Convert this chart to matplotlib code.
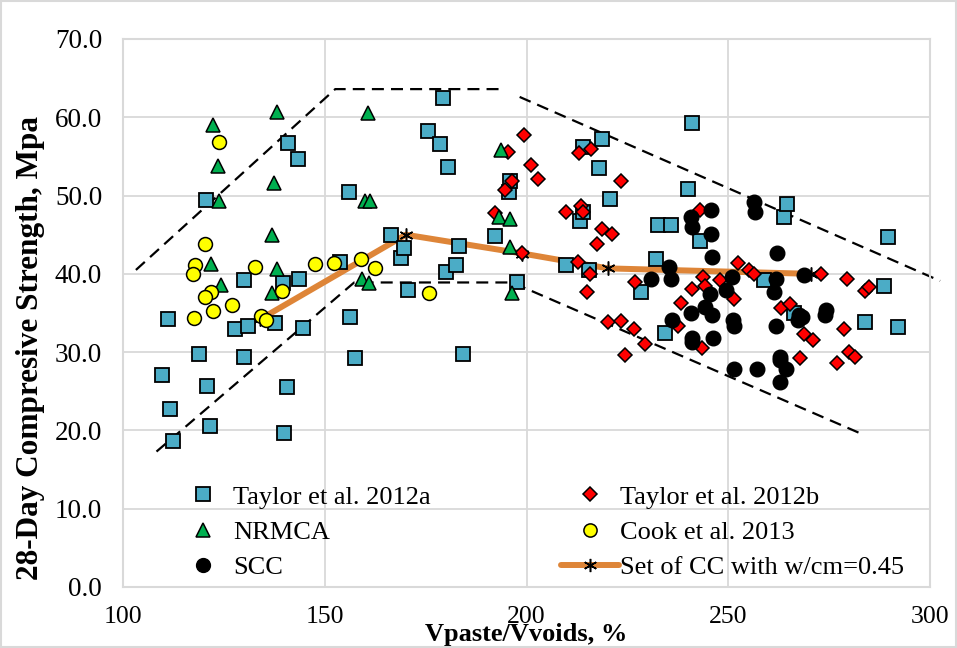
import matplotlib
matplotlib.use("Agg")
import matplotlib.pyplot as plt
from matplotlib.patches import Rectangle

plt.rcParams['font.family'] = ['Liberation Serif', 'DejaVu Serif']

# ---------------- data ----------------
taylor_a_x = [109.7, 111.2, 111.7, 112.4, 118.9, 120.8, 121.6, 120.5, 127.8, 129.9, 130.1, 131.1,
              137.7, 139.6, 139.8, 140.6, 141.0, 143.3, 143.7, 144.7, 153.8, 155.9, 156.3, 157.4,
              166.5, 169.0, 169.6, 170.6, 175.5, 178.5, 179.2, 180.1, 180.6, 182.6, 183.2, 184.3,
              192.3, 195.6, 196.0, 197.7, 209.9, 213.2, 214.0, 214.0, 215.5, 217.9, 218.6, 220.7,
              228.5, 232.0, 232.6, 234.3, 235.9, 240.1, 240.9, 243.0, 258.9, 263.7, 264.5, 266.3,
              284.0, 288.7, 289.7, 292.1]
taylor_a_y = [27.1, 34.2, 22.7, 18.6, 29.8, 25.7, 20.6, 49.4, 33.0, 29.4, 39.2, 33.3,
              33.7, 38.8, 19.7, 25.6, 56.7, 54.7, 39.4, 33.1, 41.5, 50.4, 34.5, 29.2,
              45.0, 42.0, 43.3, 37.9, 58.2, 56.6, 62.4, 40.3, 53.6, 41.1, 43.5, 29.8,
              44.8, 50.5, 51.9, 39.0, 41.1, 46.7, 47.9, 56.2, 40.5, 53.5, 57.2, 49.6,
              37.7, 41.9, 46.3, 32.4, 46.3, 50.8, 59.3, 44.2, 39.2, 47.3, 48.9, 35.0,
              33.9, 38.4, 44.7, 33.2]

taylor_b_x = [199.5, 201.2, 202.9, 195.5, 196.3, 194.6, 192.3, 198.9, 213.0, 216.1, 223.3, 209.9,
              213.4, 214.0, 218.8, 221.3, 217.4, 243.0, 212.7, 215.7, 214.9, 227.0, 220.3, 223.5,
              226.6, 229.4, 224.4, 238.2, 240.9, 243.8, 244.2, 248.0, 251.4, 252.3, 255.2, 256.4,
              237.5, 243.4, 273.1, 279.4, 283.9, 284.9, 263.0, 265.3, 268.8, 271.1, 278.7, 267.7,
              276.9, 280.0, 281.5]
taylor_b_y = [57.8, 53.9, 52.1, 55.6, 51.8, 50.7, 47.8, 42.7, 55.5, 55.9, 51.9, 47.9,
              48.7, 47.9, 45.7, 45.1, 43.8, 48.1, 41.5, 40.0, 37.7, 39.0, 33.8, 34.0,
              33.0, 31.0, 29.6, 36.3, 38.1, 39.6, 38.4, 39.2, 36.8, 41.4, 40.5, 40.0,
              33.3, 30.5, 40.0, 39.4, 37.8, 38.3, 35.7, 36.1, 32.3, 31.6, 33.0, 29.2,
              28.6, 30.0, 29.4]

nrmca_x = [122.4, 138.1, 123.6, 137.5, 123.8, 136.9, 121.8, 138.1, 124.3, 136.9, 160.7, 160.0,
           161.3, 193.8, 193.3, 195.9, 196.0, 159.2, 160.9, 196.3]
nrmca_y = [59.0, 60.7, 53.8, 51.6, 49.3, 45.0, 41.3, 40.6, 38.6, 37.5, 60.5, 49.3,
           49.3, 55.8, 47.2, 47.0, 43.4, 39.3, 38.8, 37.6]

cook_x = [123.8, 120.3, 117.9, 117.3, 132.6, 147.6, 121.8, 120.3, 139.5, 127.0, 122.2, 117.7,
          134.2, 135.4, 152.2, 159.1, 162.5, 175.8]
cook_y = [56.9, 43.8, 41.1, 40.0, 40.9, 41.3, 37.7, 37.1, 37.8, 36.0, 35.2, 34.3,
          34.6, 34.1, 41.4, 41.9, 40.8, 37.5]

scc_x = [245.8, 256.4, 256.6, 240.7, 241.1, 245.8, 246.0, 235.3, 230.8, 235.7, 245.6, 249.5,
         251.0, 240.7, 244.2, 246.0, 236.1, 251.3, 251.4, 240.9, 241.1, 246.1, 251.4, 257.2,
         262.2, 261.8, 268.7, 261.4, 267.6, 268.4, 267.2, 274.2, 274.0, 261.8, 262.9, 262.9,
         264.3, 262.9]
scc_y = [48.1, 49.2, 47.9, 47.3, 46.0, 45.1, 42.2, 40.9, 39.3, 39.3, 37.4, 37.9,
         39.6, 35.0, 35.8, 34.7, 34.1, 34.1, 33.3, 31.8, 31.3, 31.8, 27.9, 27.9,
         42.7, 39.4, 39.8, 37.7, 34.7, 34.5, 34.1, 35.4, 34.7, 33.3, 29.4, 29.0,
         27.9, 26.2]

cc_x = [134.0, 170.1, 199.0, 220.2, 270.5]
cc_y = [34.2, 45.0, 42.6, 40.7, 40.0]

upper_env_x = [103.2, 152.6, 194.4]
upper_env_y = [40.5, 63.6, 63.6]
upper_env2_x = [198.3, 302.5]
upper_env2_y = [62.6, 39.1]
lower_env_x = [108.3, 157.3, 196.4, 283.3]
lower_env_y = [17.3, 38.9, 38.9, 19.5]

x_ticks = [100, 150, 200, 250, 300]
y_ticks = [0, 10, 20, 30, 40, 50, 60, 70]

labels = ["Taylor et al. 2012a", "Taylor et al. 2012b", "NRMCA", "Cook et al. 2013",
          "SCC", "Set of CC with w/cm=0.45"]

# ---------------- figure ----------------
W, H = 957, 648
fig = plt.figure(figsize=(W / 100, H / 100), dpi=100)
ax = fig.add_axes([123 / W, 1 - 587 / H, (930 - 123) / W, (587 - 39) / H])

grid_c = '#D9D9D9'
ax.set_xlim(100, 300)
ax.set_ylim(0, 70)
ax.set_xticks(x_ticks)
ax.set_yticks(y_ticks)
ax.set_xticklabels([str(v) for v in x_ticks])
ax.set_yticklabels([f"{v:.1f}" for v in y_ticks])
ax.grid(True, color=grid_c, lw=1.3, zorder=0)
ax.set_axisbelow(True)
for s in ax.spines.values():
    s.set_color(grid_c)
    s.set_linewidth(1.5)
ax.tick_params(length=0, colors='black')
ax.tick_params(axis='x', pad=14, labelsize=18.5)
ax.tick_params(axis='y', pad=15, labelsize=19.5)

dash = (0, (5.4, 3.2))
ax.plot(upper_env_x, upper_env_y, color='black', lw=1.6, ls=dash, zorder=1, clip_on=False)
ax.plot(upper_env2_x, upper_env2_y, color='black', lw=1.6, ls=dash, zorder=1, clip_on=False)
ax.plot(lower_env_x, lower_env_y, color='black', lw=1.6, ls=dash, zorder=1, clip_on=False)

h_cc, = ax.plot(cc_x, cc_y, color='#DE8538', lw=4.3, marker=(6, 2, 0), ms=10,
                mec='black', mew=1.1, zorder=2, solid_capstyle='round')
h_ta, = ax.plot(taylor_a_x, taylor_a_y, ls='none', marker='s', ms=10, mfc='#4BACC6',
                mec='black', mew=1.3, zorder=3)
h_tb, = ax.plot(taylor_b_x, taylor_b_y, ls='none', marker='D', ms=7, mfc='#FF0000',
                mec='black', mew=1.1, zorder=4)
h_nr, = ax.plot(nrmca_x, nrmca_y, ls='none', marker='^', ms=10.5, mfc='#00B050',
                mec='black', mew=1.1, zorder=5)
h_ck, = ax.plot(cook_x, cook_y, ls='none', marker='o', ms=10, mfc='#FFFF00',
                mec='black', mew=1.1, zorder=6)
h_sc, = ax.plot(scc_x, scc_y, ls='none', marker='o', ms=10.5, mfc='black',
                mec='black', mew=1.0, zorder=7)

ax.set_xlabel("Vpaste/Vvoids, %", fontsize=19, fontweight='bold')
ax.xaxis.set_label_coords(0.5, (587 - 634) / (587 - 39))
ax.xaxis.label.set_verticalalignment('center')
ax.set_ylabel("28-Day Compresive Strength, Mpa", fontsize=22.5, fontweight='bold')
ax.yaxis.set_label_coords((31 - 123) / (930 - 123), (587 - 348) / (587 - 39))
ax.yaxis.label.set_verticalalignment('center')

leg_kw = dict(frameon=False, fontsize=19, borderpad=0, borderaxespad=0,
              handlelength=2.2, handletextpad=0.05, labelspacing=0.44,
              markerscale=0.95, bbox_transform=fig.transFigure, loc='center left')
leg1 = ax.legend([h_ta, h_nr, h_sc], [labels[0], labels[2], labels[4]],
                 bbox_to_anchor=(174 / W, 1 - 532 / H), **leg_kw)
ax.add_artist(leg1)
leg2 = ax.legend([h_tb, h_ck, h_cc], [labels[1], labels[3], labels[5]],
                 bbox_to_anchor=(561 / W, 1 - 532 / H), **leg_kw)

fig.patches.append(Rectangle((0.001, 0.001), 0.998, 0.998, transform=fig.transFigure,
                             fill=False, edgecolor=grid_c, lw=1.5))

fig.savefig("out.png", dpi=100)
